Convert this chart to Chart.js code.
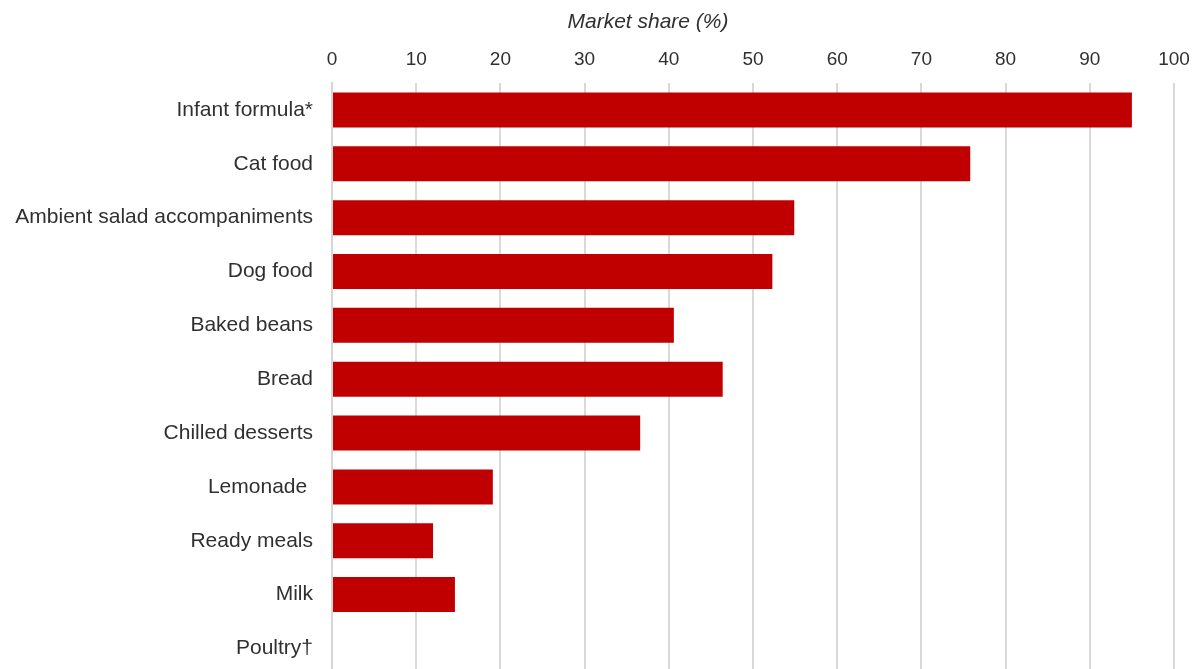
<!DOCTYPE html>
<html>
<head>
<meta charset="utf-8">
<script src="https://cdn.jsdelivr.net/npm/chart.js@4"></script>
<style>
  html, body { margin: 0; padding: 0; background: #fff; overflow: hidden; }
  canvas { display: block; }
</style>
</head>
<body>
<canvas id="c" width="1195" height="707"></canvas>
<script>
// Product categories, top to bottom
const categories = [
  'Infant formula*', 'Cat food', 'Ambient salad accompaniments', 'Dog food',
  'Baked beans', 'Bread', 'Chilled desserts', 'Lemonade ', 'Ready meals',
  'Milk', 'Poultry\u2020'
];
// Market share of the leading brand, %
const marketShare = [95.0, 75.8, 54.9, 52.3, 40.6, 46.4, 36.6, 19.1, 12.0, 14.6, null];
// Axis tick range
const axisMin = 0;
const axisMax = 100;
const axisStep = 10;
const axisTitle = 'Market share (%)';

const textColor = '#303030';
const gridColor = '#d9d9d9';
const fontFamily = 'Liberation Sans, Arial, sans-serif';

// Axis caption, set a little left of the plot centre
const axisCaption = {
  id: 'axisCaption',
  afterDraw(chart) {
    const ctx = chart.ctx;
    ctx.save();
    ctx.font = 'italic 21px ' + fontFamily;
    ctx.fillStyle = textColor;
    ctx.textAlign = 'center';
    ctx.textBaseline = 'middle';
    ctx.fillText(axisTitle, 648, 22);
    ctx.restore();
  }
};

new Chart(document.getElementById('c'), {
  type: 'bar',
  data: {
    labels: categories,
    datasets: [{
      data: marketShare,
      backgroundColor: '#c00000',
      borderWidth: 0,
      barPercentage: 0.65,
      categoryPercentage: 1.0
    }]
  },
  plugins: [axisCaption],
  options: {
    indexAxis: 'y',
    responsive: false,
    maintainAspectRatio: false,
    animation: false,
    devicePixelRatio: 1,
    layout: { padding: { left: 0, right: 21, top: 0, bottom: 0 } },
    plugins: { legend: { display: false }, tooltip: { enabled: false } },
    scales: {
      x: {
        position: 'top',
        min: axisMin,
        max: axisMax,
        ticks: {
          stepSize: axisStep,
          color: textColor,
          padding: 12,
          font: { family: fontFamily, size: 19 }
        },
        grid: {
          drawTicks: false,
          lineWidth: 2,
          color: (ctx) => (ctx.tick && ctx.tick.value === 0) ? 'rgba(0,0,0,0)' : gridColor
        },
        border: { display: false },
        title: { display: false },
        afterFit: (scale) => {
          scale.height = 83;
          scale.paddingRight = 0;
        }
      },
      y: {
        ticks: {
          color: textColor,
          padding: 19,
          font: { family: fontFamily, size: 21 }
        },
        grid: { display: false, drawTicks: false },
        border: { display: true, color: '#d6d6d6', width: 2, dash: [3, 2] },
        afterFit: (scale) => { scale.width = 332; }
      }
    }
  }
});
</script>
</body>
</html>
